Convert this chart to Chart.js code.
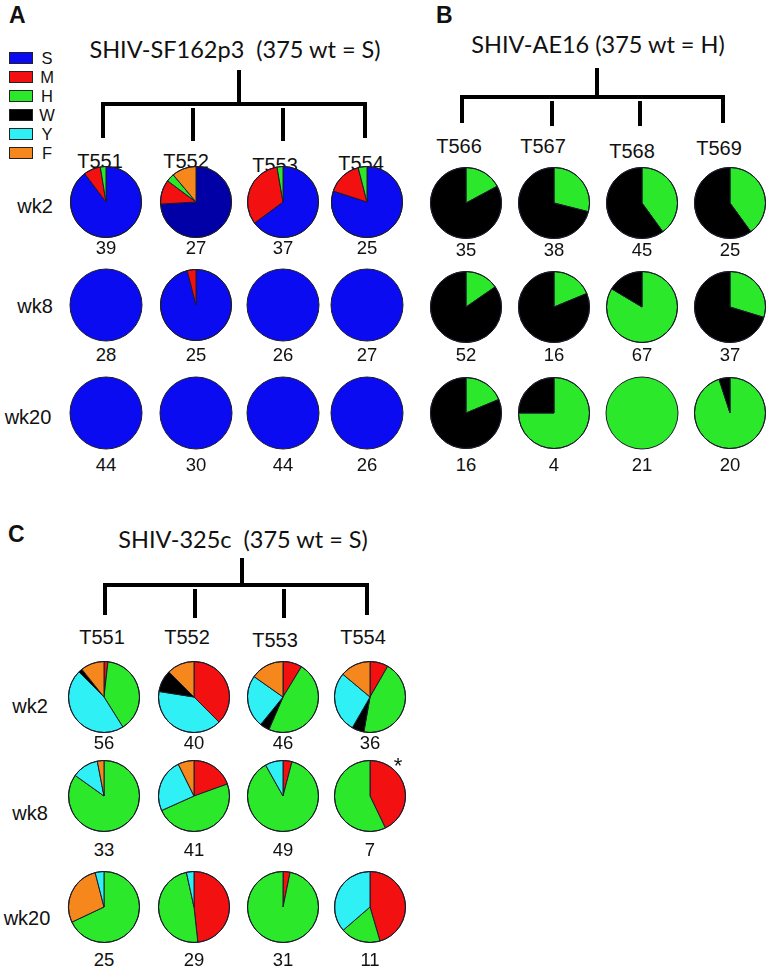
<!DOCTYPE html>
<html>
<head>
<meta charset="utf-8">
<script src="https://cdn.jsdelivr.net/npm/chart.js@4.4.0/dist/chart.umd.min.js"></script>
<style>
  body { margin: 0; background: #fff; }
  #fig { position: relative; width: 766px; height: 968px; background: #fff; overflow: hidden; }
  .txt { position: absolute; font-family: "Liberation Sans", Arial, sans-serif; color: #111; white-space: nowrap; transform: translate(-50%, -50%); line-height: 1; }
  .title { font-family: Lato, "Open Sans", sans-serif; font-size: 23.5px; }
  .panel { font-weight: bold; font-size: 23px; transform: none; }
  .bar { position: absolute; background: #000; }
  .pie { position: absolute; }
  .sw { position: absolute; width: 22px; height: 10px; border: 1px solid #222; }
</style>
</head>
<body>
<div id="fig"></div>
<script>
// Variant categories (legend order)
const categories = ['S', 'M', 'H', 'W', 'Y', 'F'];
const weeks = ['wk2', 'wk8', 'wk20'];

const animalsA = ['T551', 'T552', 'T553', 'T554'];
const animalsB = ['T566', 'T567', 'T568', 'T569'];
const animalsC = ['T551', 'T552', 'T553', 'T554'];

// number of sequences under each pie, rows = weeks
const totalsA = [[39, 27, 37, 25], [28, 25, 26, 27], [44, 30, 44, 26]];
const totalsB = [[35, 38, 45, 25], [52, 16, 67, 37], [16, 4, 21, 20]];
const totalsC = [[56, 40, 46, 36], [33, 41, 49, 7], [25, 29, 31, 11]];

// slices clockwise from 12 o'clock: [variant, count]
const slicesA = [
    [[['S', 35], ['M', 3], ['H', 1]], [['S', 20], ['M', 3], ['H', 1], ['F', 3]], [['S', 24], ['M', 12], ['H', 1]], [['S', 20], ['M', 4], ['H', 1]]],
    [[['S', 28]], [['S', 24], ['M', 1]], [['S', 26]], [['S', 27]]],
    [[['S', 44]], [['S', 30]], [['S', 44]], [['S', 26]]]
];
const slicesB = [
    [[['H', 6], ['W', 29]], [['H', 11], ['W', 27]], [['H', 18], ['W', 27]], [['H', 10], ['W', 15]]],
    [[['H', 8], ['W', 44]], [['H', 3], ['W', 13]], [['H', 56], ['W', 11]], [['H', 11], ['W', 26]]],
    [[['H', 3], ['W', 13]], [['H', 3], ['W', 1]], [['H', 21]], [['H', 19], ['W', 1]]]
];
const slicesC = [
    [[['M', 1], ['H', 22], ['Y', 26], ['W', 1], ['F', 6]], [['M', 15], ['Y', 16], ['W', 4], ['F', 5]], [['M', 4], ['H', 22], ['W', 2], ['Y', 11], ['F', 7]], [['M', 3], ['H', 16], ['W', 2], ['Y', 10], ['F', 5]]],
    [[['H', 28], ['Y', 4], ['F', 1]], [['M', 8], ['H', 20], ['Y', 10], ['F', 3]], [['M', 2], ['H', 43], ['Y', 4]], [['M', 3], ['H', 4]]],
    [[['H', 17], ['F', 7], ['Y', 1]], [['M', 14], ['H', 14], ['Y', 1]], [['M', 1], ['H', 30]], [['M', 5], ['H', 2], ['Y', 4]]]
];

// styling
const colors = { S: '#0b0bf2', M: '#f21010', H: '#2be82b', W: '#000000', Y: '#2ef0f5', F: '#f5871c' };
const darkS = '#0000a6'; // T552 wk2 in panel A is drawn in a darker blue

const fig = document.getElementById('fig');

function addText(str, x, y, size, cls) {
    const d = document.createElement('div');
    d.className = 'txt' + (cls ? ' ' + cls : '');
    d.textContent = str;
    d.style.left = x + 'px';
    d.style.top = y + 'px';
    if (size) d.style.fontSize = size + 'px';
    fig.appendChild(d);
    return d;
}

function addBar(x1, y1, x2, y2) {
    const d = document.createElement('div');
    d.className = 'bar';
    d.style.left = x1 + 'px';
    d.style.top = y1 + 'px';
    d.style.width = (x2 - x1) + 'px';
    d.style.height = (y2 - y1) + 'px';
    fig.appendChild(d);
}

function drawTree(t) {
    addBar(t.stem - 2, t.top, t.stem + 2, t.mid + 2);
    addBar(t.drops[0] - 2, t.mid - 2, t.drops[3] + 2, t.mid + 2);
    t.drops.forEach((x, i) => {
        const outer = i === 0 || i === 3;
        addBar(x - 2, outer ? t.mid : t.mid + 4, x + 2, outer ? t.bot : t.bot + 3);
    });
}

// outline circle around each pie, using the arc geometry from Chart.js
const outlinePlugin = {
    id: 'outline',
    afterDatasetsDraw(chart) {
        const arc = chart.getDatasetMeta(0).data[0];
        if (!arc) return;
        const ctx = chart.ctx;
        ctx.save();
        ctx.beginPath();
        ctx.arc(arc.x, arc.y, arc.outerRadius, 0, Math.PI * 2);
        ctx.lineWidth = 1;
        ctx.strokeStyle = '#1b1b2a';
        ctx.stroke();
        ctx.restore();
    }
};

function drawPie(slices, cx, cy, dark) {
    const size = 74;
    const c = document.createElement('canvas');
    c.className = 'pie';
    c.width = size;
    c.height = size;
    c.style.left = (cx - size / 2) + 'px';
    c.style.top = (cy - size / 2) + 'px';
    fig.appendChild(c);
    const single = slices.length === 1;
    new Chart(c.getContext('2d'), {
        type: 'pie',
        data: {
            labels: slices.map(s => s[0]),
            datasets: [{
                data: slices.map(s => s[1]),
                backgroundColor: slices.map(s => (dark && s[0] === 'S') ? darkS : colors[s[0]]),
                borderColor: '#1b1b2a',
                borderWidth: single ? 0 : 1
            }]
        },
        options: {
            responsive: false,
            animation: false,
            devicePixelRatio: 1,
            events: [],
            layout: { padding: 1 },
            plugins: { legend: { display: false }, tooltip: { enabled: false } }
        },
        plugins: [outlinePlugin]
    });
}

function drawPanel(p) {
    addText(p.letter, p.letterX, p.letterY, null, 'panel');
    addText(p.title, p.titleX, p.titleY, null, 'title');
    drawTree(p.tree);
    p.animals.forEach((a, j) => addText(a, p.labelX[j], p.labelY[j], 20));
    weeks.forEach((w, i) => {
        addText(w, p.weekX[i], p.weekY[i], 20);
        p.slices[i].forEach((s, j) => {
            drawPie(s, p.pieX[j], p.pieY[i], p.dark && p.dark[0] === i && p.dark[1] === j);
            addText(String(p.totals[i][j]), p.pieX[j], p.numY[i], 18.5);
        });
    });
}

// Panel A
drawPanel({
    letter: 'A', letterX: 9, letterY: 4,
    title: 'SHIV-SF162p3\u00a0\u00a0(375 wt = S)', titleX: 235, titleY: 50,
    tree: { stem: 239, top: 70, mid: 104, bot: 138, drops: [103, 193, 283, 365] },
    animals: animalsA, labelX: [100, 186, 275, 361], labelY: [161, 161, 165, 163],
    weekX: [35, 35, 28], weekY: [206, 306, 417],
    pieX: [106, 196, 283, 367], pieY: [202, 305, 413], numY: [248, 355, 465],
    slices: slicesA, totals: totalsA, dark: [0, 1]
});

// Panel B
drawPanel({
    letter: 'B', letterX: 436, letterY: 4,
    title: 'SHIV-AE16 (375 wt = H)', titleX: 598, titleY: 45,
    tree: { stem: 597, top: 68, mid: 97, bot: 123, drops: [462, 552, 640, 723] },
    animals: animalsB, labelX: [459, 543, 632, 719], labelY: [146, 146, 151, 148],
    weekX: [-100, -100, -100], weekY: [0, 0, 0],
    pieX: [466, 554, 642, 730], pieY: [203, 307, 413], numY: [250, 355, 465],
    slices: slicesB, totals: totalsB
});

// Panel C
drawPanel({
    letter: 'C', letterX: 8, letterY: 523,
    title: 'SHIV-325c\u00a0\u00a0(375 wt = S)', titleX: 243, titleY: 540,
    tree: { stem: 242, top: 558, mid: 585, bot: 615, drops: [105, 195, 284, 367] },
    animals: animalsC, labelX: [102, 187, 275, 363], labelY: [637, 637, 640, 637],
    weekX: [30, 30, 27], weekY: [706, 813, 918],
    pieX: [104, 194, 283, 370], pieY: [697, 796, 907], numY: [743, 850, 960],
    slices: slicesC, totals: totalsC
});
addText('*', 398, 766, 22);

// legend
categories.forEach((cat, i) => {
    const sw = document.createElement('div');
    sw.className = 'sw';
    sw.style.left = '9px';
    sw.style.top = (52 + i * 19) + 'px';
    sw.style.background = colors[cat];
    fig.appendChild(sw);
    addText(cat, 47, 58 + i * 19, 16.5);
});
</script>
</body>
</html>
